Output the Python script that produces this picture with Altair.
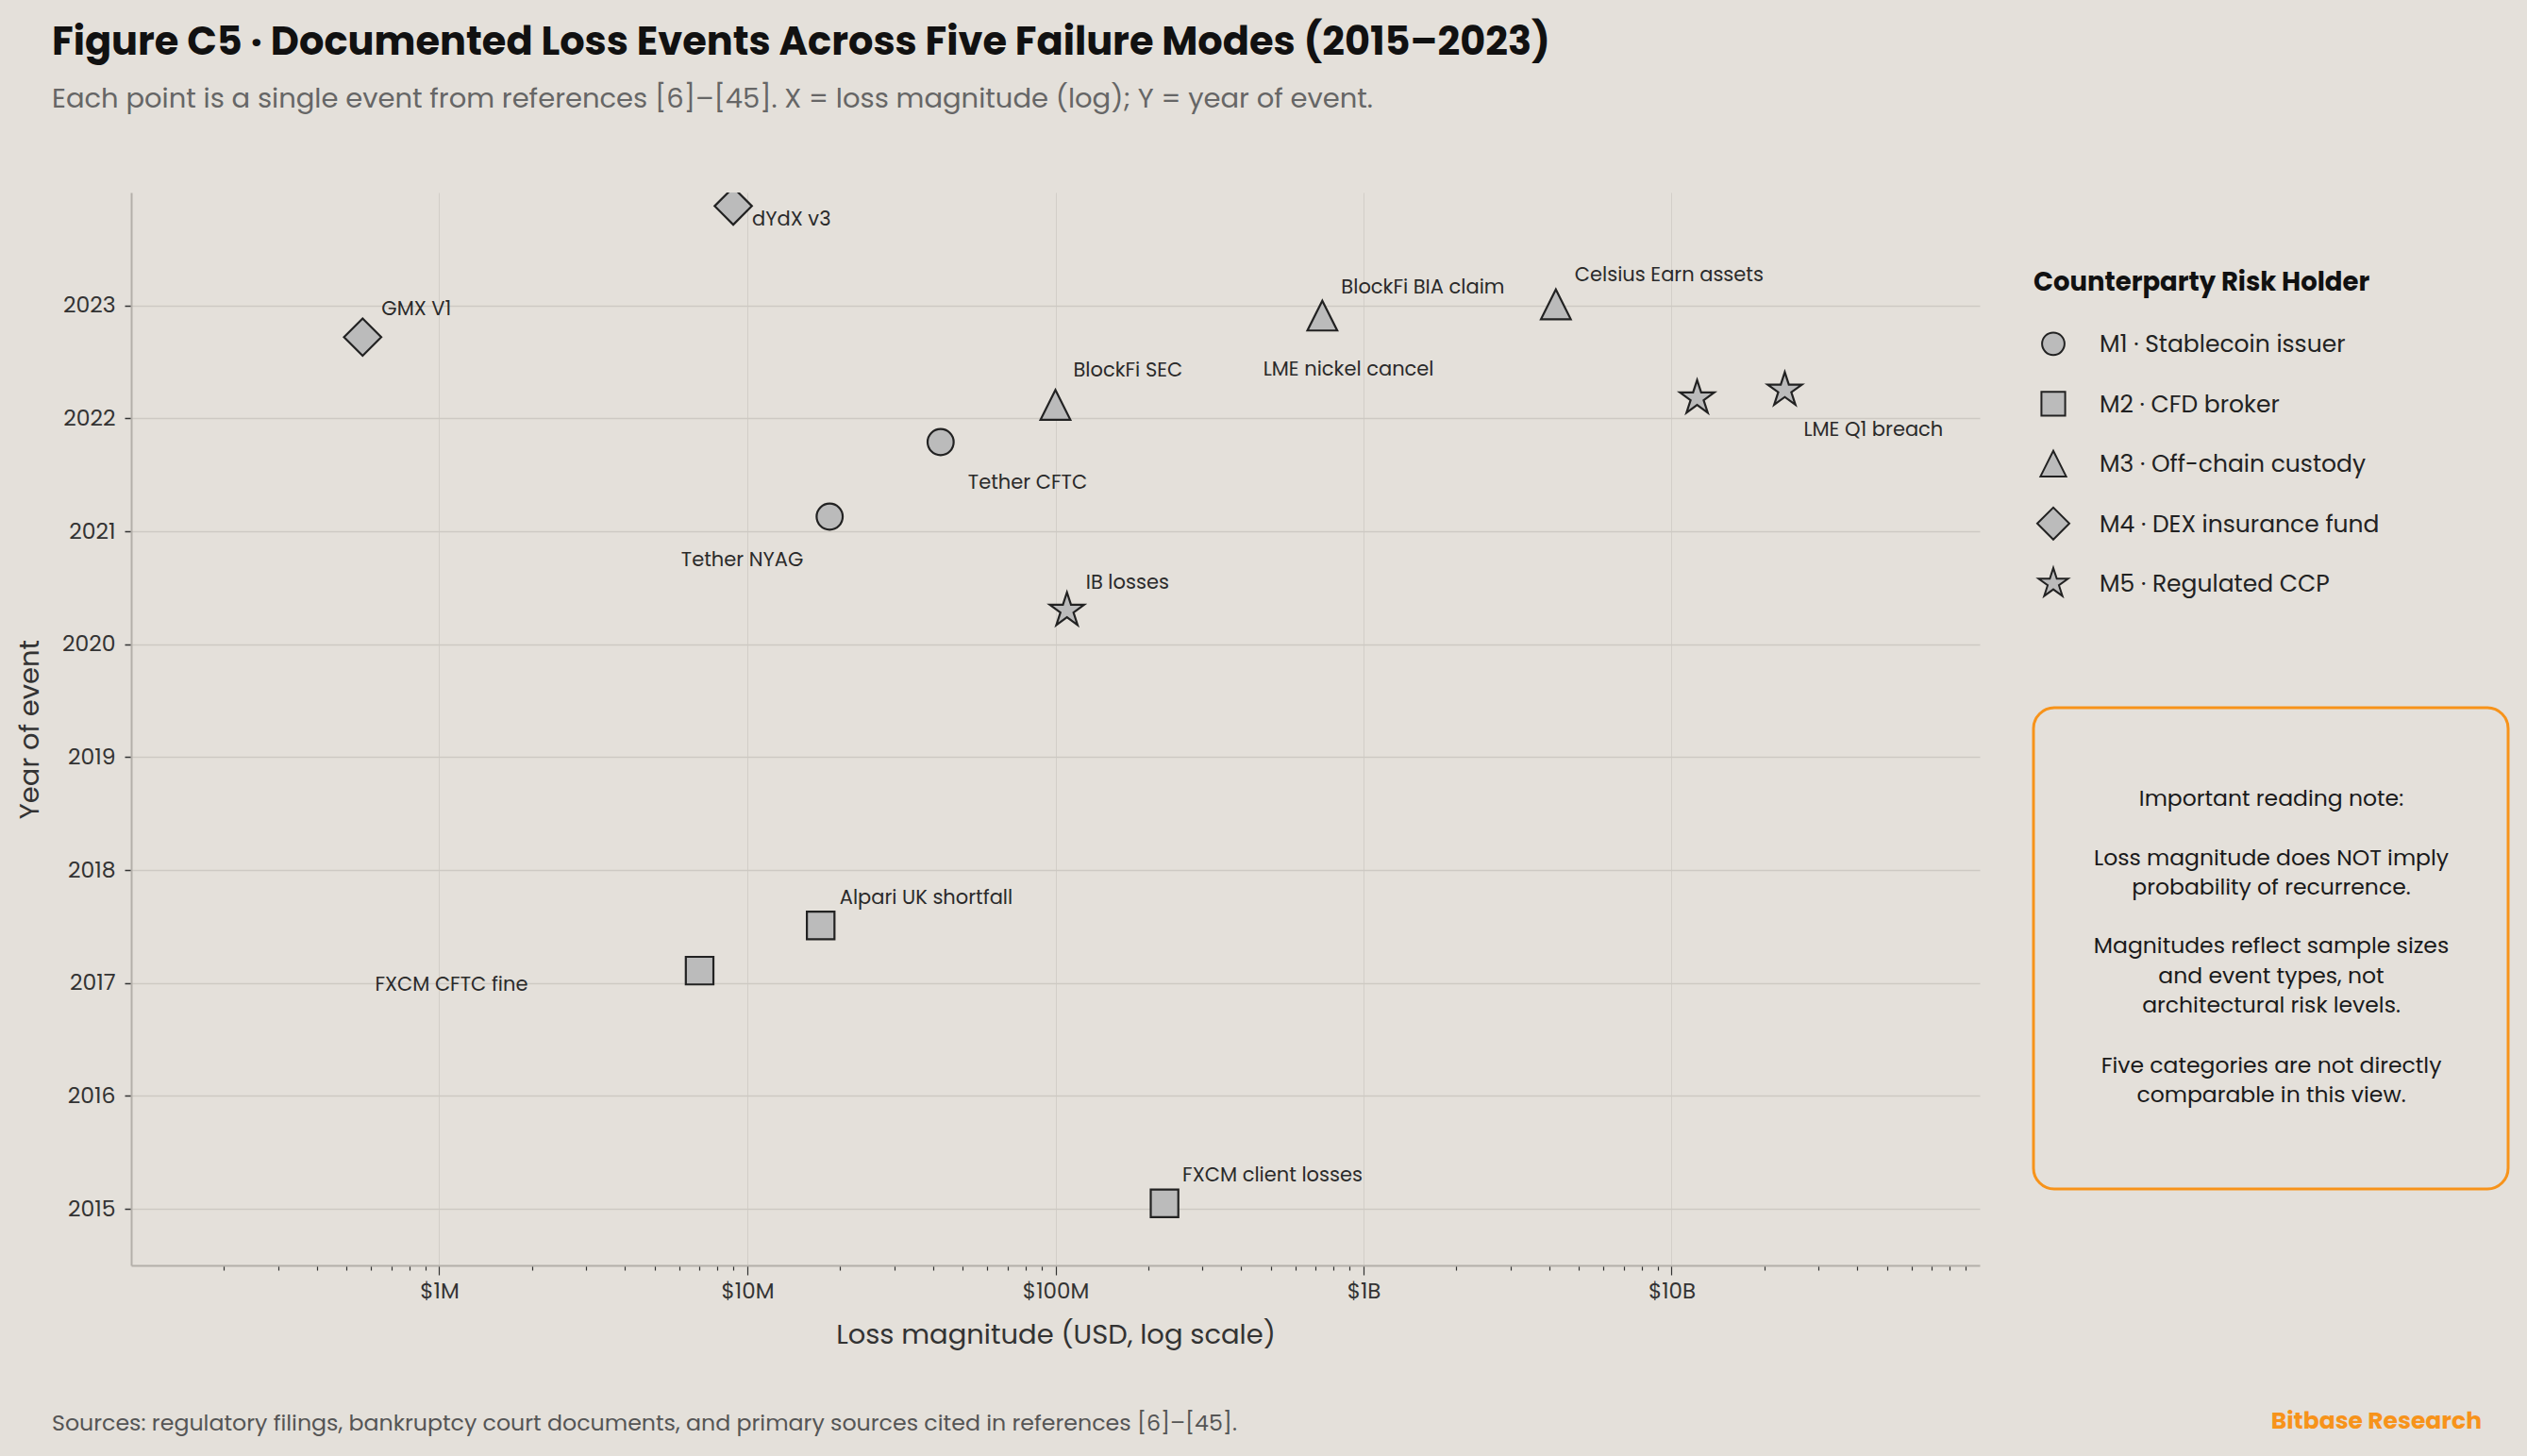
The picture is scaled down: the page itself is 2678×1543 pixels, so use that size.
import altair as alt
import pandas as pd

# ---------------- data ----------------
events = ["Tether NYAG", "Tether CFTC", "FXCM client losses", "FXCM CFTC fine",
          "Alpari UK shortfall", "BlockFi SEC", "BlockFi BIA claim",
          "Celsius Earn assets", "GMX V1", "dYdX v3", "IB losses",
          "LME nickel cancel", "LME Q1 breach"]
event_mode = ["M1", "M1", "M2", "M2", "M2", "M3", "M3", "M3", "M4", "M4", "M5", "M5", "M5"]
loss_usd = [1.85e7, 4.24e7, 2.26e8, 7.0e6, 1.73e7, 1.0e8, 7.35e8, 4.21e9,
            5.64e5, 9.0e6, 1.09e8, 1.21e10, 2.33e10]
event_year = [2021.13, 2021.79, 2015.05, 2017.11, 2017.51, 2022.12, 2022.91,
              2023.01, 2022.72, 2023.88, 2020.30, 2022.18, 2022.25]

mode_codes = ["M1", "M2", "M3", "M4", "M5"]
mode_names = ["M1 · Stablecoin issuer", "M2 · CFD broker", "M3 · Off-chain custody",
              "M4 · DEX insurance fund", "M5 · Regulated CCP"]

major_ticks = [1e6, 1e7, 1e8, 1e9, 1e10]
major_labels = ["$1M", "$10M", "$100M", "$1B", "$10B"]
year_ticks = [2015, 2016, 2017, 2018, 2019, 2020, 2021, 2022, 2023]

note_paragraphs = [
    ["Important reading note:"],
    ["Loss magnitude does NOT imply", "probability of recurrence."],
    ["Magnitudes reflect sample sizes", "and event types, not", "architectural risk levels."],
    ["Five categories are not directly", "comparable in this view."],
]

TITLE = "Figure C5 · Documented Loss Events Across Five Failure Modes (2015–2023)"
SUBTITLE = "Each point is a single event from references [6]–[45]. X = loss magnitude (log); Y = year of event."
LEGEND_TITLE = "Counterparty Risk Holder"
SOURCE = "Sources: regulatory filings, bankruptcy court documents, and primary sources cited in references [6]–[45]."
BRAND = "Bitbase Research"

# ---------------- styling ----------------
FONT = "Poppins, Inter, sans-serif"
BG = "#E4E0DA"
ORANGE = "#F7931A"
MARK_FILL = "#bbbbbb"
MARK_STROKE = "#222222"
# marker outlines in a common unit box (diamond spans the full box)
CIRCLE = "M0.7,0A0.7,0.7 0 1,1 -0.7,0A0.7,0.7 0 1,1 0.7,0Z"
SQUARE = "M-0.74,-0.74L0.74,-0.74L0.74,0.74L-0.74,0.74Z"
TRI = "M0,-0.8L0.8,0.8L-0.8,0.8Z"
DIAMOND = "M-1,0L0,-1L1,0L0,1Z"
STAR = ("M0,-0.967L0.217,-0.299L0.92,-0.299L0.351,0.114L0.569,0.782L0,0.369"
        "L-0.569,0.782L-0.351,0.114L-0.92,-0.299L-0.217,-0.299Z")
shape_range = [CIRCLE, SQUARE, TRI, DIAMOND, STAR]

# label placement: (align, dx, dy) relative to the marker centre
label_style = {
    "GMX V1": ("left", 20, -29),
    "dYdX v3": ("left", 20, 15),
    "Tether NYAG": ("right", -28, 47),
    "Tether CFTC": ("left", 29, 43),
    "BlockFi SEC": ("left", 19, -36),
    "BlockFi BIA claim": ("left", 20, -29),
    "Celsius Earn assets": ("left", 20, -30),
    "LME nickel cancel": ("right", -279, -30),
    "LME Q1 breach": ("left", 20, 43),
    "IB losses": ("left", 20, -29),
    "Alpari UK shortfall": ("left", 20, -29),
    "FXCM CFTC fine": ("right", -182, 15),
    "FXCM client losses": ("left", 19, -29),
}

code_to_name = dict(zip(mode_codes, mode_names))
df = pd.DataFrame({
    "event": events,
    "mode": [code_to_name[c] for c in event_mode],
    "loss": loss_usd,
    "year": event_year,
})
modes_df = pd.DataFrame({"mode": mode_names})
one = pd.DataFrame({"k": [0]})

x_ticks = [m * 10 ** e for e in range(5, 11) for m in range(1, 10) if not (m == 1 and e == 5)]
MAJOR = "(" + " || ".join(f"datum.value == {int(v)}" for v in major_ticks) + ")"
label_expr = "".join(f"datum.value == {int(v)} ? '{l}' : " for v, l in zip(major_ticks, major_labels)) + "''"

x_scale = alt.Scale(type="log", domain=[1e5, 1e11], nice=False)
y_scale = alt.Scale(domain=[2014.5, 2024.0], nice=False, zero=False)
shape_scale = alt.Scale(domain=mode_names, range=shape_range)

x_enc = alt.X("loss:Q", scale=x_scale,
              axis=alt.Axis(values=x_ticks, labelExpr=label_expr,
                            title="Loss magnitude (USD, log scale)",
                            grid=True, gridColor="#d2cec8", gridWidth=1,
                            gridOpacity={"condition": {"test": MAJOR, "value": 1}, "value": 0},
                            tickSize={"condition": {"test": MAJOR, "value": 10}, "value": 5},
                            tickColor="#333333", tickWidth=1.2,
                            domainColor="#b3afa9", domainWidth=2,
                            labelFont=FONT, labelFontSize=23, labelColor="#333333",
                            labelPadding=6, labelFlush=False,
                            titleFont=FONT, titleFontSize=29, titleFontWeight="normal",
                            titleColor="#333333", titlePadding=20))
y_enc = alt.Y("year:Q", scale=y_scale,
              axis=alt.Axis(values=year_ticks, format="d", title="Year of event",
                            grid=True, gridColor="#cdc9c3", gridWidth=1.5,
                            tickColor="#333333", tickSize=7, tickWidth=1.5,
                            domainColor="#b3afa9", domainWidth=2,
                            labelFont=FONT, labelFontSize=23.5, labelColor="#333333",
                            labelPadding=10,
                            titleFont=FONT, titleFontSize=29, titleFontWeight="normal",
                            titleColor="#333333", titlePadding=19))

points = alt.Chart(df).mark_point(
    filled=False, fill=MARK_FILL, stroke=MARK_STROKE, strokeWidth=2.2, opacity=1,
    fillOpacity=1, size=1560, clip=True
).encode(
    x=x_enc, y=y_enc,
    shape=alt.Shape("mode:N", scale=shape_scale, legend=None),
)

label_layers = []
for name, (align, dx, dy) in label_style.items():
    label_layers.append(
        alt.Chart(df).transform_filter(alt.datum.event == name).mark_text(
            align=align, baseline="middle", dx=dx, dy=dy,
            font=FONT, fontSize=21, color="#2a2a2a"
        ).encode(x=alt.X("loss:Q", scale=x_scale), y=alt.Y("year:Q", scale=y_scale),
                 text="event:N")
    )

main = alt.layer(points, *label_layers)

# ---------- legend (drawn from the mode list) ----------
legend_y = alt.Y("mode:N", scale=alt.Scale(type="point", domain=mode_names,
                                           range=[160.3, 414.3], padding=0), axis=None)
legend_symbols = alt.Chart(modes_df).mark_point(
    filled=False, fill=MARK_FILL, stroke=MARK_STROKE, strokeWidth=2, opacity=1,
    fillOpacity=1, size=1156
).encode(x=alt.value(2037), y=legend_y,
         shape=alt.Shape("mode:N", scale=shape_scale, legend=None))
legend_labels = alt.Chart(modes_df).mark_text(
    align="left", baseline="alphabetic", dy=8.7, font=FONT, fontSize=25, color="#222222"
).encode(x=alt.value(2086), y=legend_y, text="mode:N")
legend_title = alt.Chart(one).mark_text(
    text=LEGEND_TITLE, align="left", baseline="alphabetic", font=FONT, fontSize=27.5,
    fontWeight="bold", color="#111111"
).encode(x=alt.value(2016), y=alt.value(104))

# ---------- note box ----------
box = alt.Chart(one).mark_rect(
    fill=None, fillOpacity=0, stroke=ORANGE, strokeWidth=3, cornerRadius=22
).encode(x=alt.value(2016), x2=alt.value(2519), y=alt.value(546), y2=alt.value(1056))

note_layers = []
for para, ypos in zip(note_paragraphs, [649.6, 712.6, 806.2, 932.6]):
    note_layers.append(alt.Chart(one).mark_text(
        text=para, align="center", baseline="alphabetic", lineHeight=31.6,
        font=FONT, fontSize=23.5, color="#1a1a1a"
    ).encode(x=alt.value(2268), y=alt.value(ypos)))

source = alt.Chart(one).mark_text(
    text=SOURCE, align="left", baseline="alphabetic", font=FONT, fontSize=23.7, color="#555555"
).encode(x=alt.value(-84), y=alt.value(1312))

brand = alt.Chart(one).mark_text(
    text=BRAND, align="right", baseline="alphabetic", font=FONT, fontSize=25,
    fontWeight="bold", color=ORANGE
).encode(x=alt.value(2491), y=alt.value(1310))

chart = alt.layer(
    main, legend_symbols, legend_labels, legend_title, box, *note_layers, source, brand
).resolve_scale(y="independent").properties(
    width=1959, height=1137,
    autosize=alt.AutoSizeParams(type="none"),
    padding={"left": 139, "top": 204, "right": 580, "bottom": 202},
    background=BG,
    title=alt.TitleParams(text=TITLE, subtitle=SUBTITLE, anchor="start", dx=-84,
                          font=FONT, fontSize=41.5, fontWeight="bold", color="#111111",
                          subtitleFont=FONT, subtitleFontSize=29, subtitleColor="#666666",
                          subtitlePadding=25, offset=84, frame="group"),
).configure_view(stroke=None)

chart.save("out.html", embed_options={"renderer": "svg", "actions": False})
